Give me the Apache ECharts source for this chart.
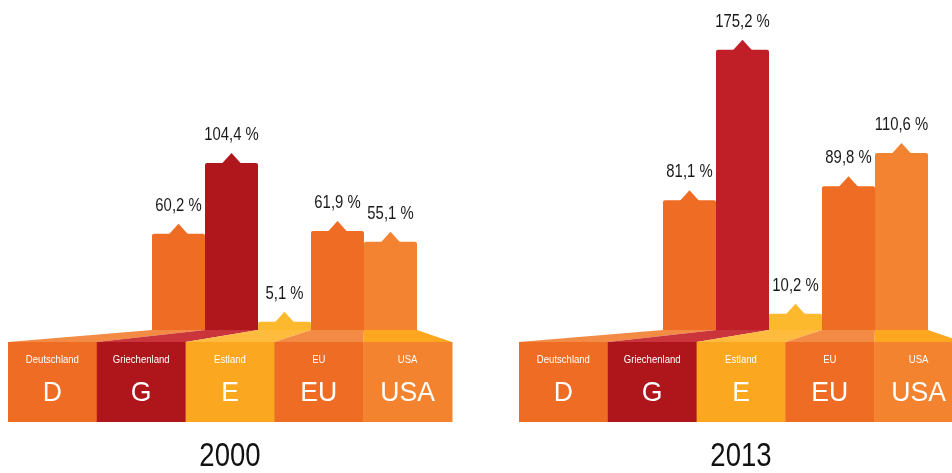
<!DOCTYPE html>
<html>
<head>
<meta charset="utf-8">
<script src="https://cdn.jsdelivr.net/npm/echarts@6/dist/echarts.min.js"></script>
<style>
html,body{margin:0;padding:0;background:#fff;}
#c{width:952px;height:473px;}
</style>
</head>
<body>
<div id="c"></div>
<script>
// ---- data ----
const categories = ['Deutschland', 'Griechenland', 'Estland', 'EU', 'USA'];
const abbreviations = ['D', 'G', 'E', 'EU', 'USA'];
const values2000 = [60.2, 104.4, 5.1, 61.9, 55.1];
const values2013 = [81.1, 175.2, 10.2, 89.8, 110.6];
const years = ['2000', '2013'];

// ---- styles ----
const barColors2000 = ['#EE6C23', '#B0171C', '#FDB92D', '#EE6C23', '#F38331'];
const barColors2013 = ['#EE6C23', '#C11F27', '#FDB92D', '#EE6C23', '#F38331'];
const blockColors = ['#EE6C23', '#AF161B', '#FBA71F', '#EE6C23', '#F3832F'];
const floorColors = ['#F38B45', '#C9353B', '#FDBC3D', '#F48B45', '#FBA71F'];
const FONT = "'Liberation Sans', Arial, sans-serif";

const BAR_W = 53, BLOCK_W = 88.8, BASE_Y = 330, FRONT_Y = 342, BLOCK_BOTTOM = 422, YMAX = 200, PX_PER_UNIT = 1.6;
const CHART_W = 952;

const panels = [
  { barLeft: 152, blockLeft: 8, values: values2000, barColors: barColors2000, year: years[0] },
  { barLeft: 663, blockLeft: 519, values: values2013, barColors: barColors2013, year: years[1] }
];

const fmt = v => v.toFixed(1).replace('.', ',') + ' %';

const grid = [], xAxis = [], yAxis = [], series = [], graphic = [];

panels.forEach((p, k) => {
  const gBar = 2 * k, gBlock = 2 * k + 1;
  const blockGridW = Math.min(5 * BLOCK_W, CHART_W - p.blockLeft);
  grid.push({ left: p.barLeft, width: 5 * BAR_W, top: BASE_Y - YMAX * PX_PER_UNIT, height: YMAX * PX_PER_UNIT });
  grid.push({ left: p.blockLeft, width: blockGridW, top: FRONT_Y, height: BLOCK_BOTTOM - FRONT_Y });
  xAxis.push({ type: 'category', gridIndex: gBar, data: categories, show: false });
  xAxis.push({ type: 'value', gridIndex: gBlock, min: 0, max: blockGridW / BLOCK_W, show: false });
  yAxis.push({ type: 'value', gridIndex: gBar, min: 0, max: YMAX, show: false });
  yAxis.push({ type: 'value', gridIndex: gBlock, min: 0, max: 1, show: false });

  // bars
  series.push({
    type: 'bar', xAxisIndex: gBar, yAxisIndex: gBar, silent: true,
    barWidth: '100%', barCategoryGap: '0%',
    data: p.values.map((v, i) => ({ value: v, itemStyle: { color: p.barColors[i] } })),
    itemStyle: { borderRadius: [2, 2, 0, 0] },
    z: 3
  });

  // peaks on bars, value labels, perspective floor
  series.push({
    type: 'custom', xAxisIndex: gBar, yAxisIndex: gBar, silent: true, z: 2,
    data: p.values.map((v, i) => [i, v]),
    renderItem: (params, api) => {
      const i = api.value(0), v = api.value(1);
      const top = api.coord([i, v]);
      const base = api.coord([i, 0]);
      const w = api.size([1, 0])[0];
      return {
        type: 'group',
        children: [
          { type: 'polygon', shape: { points: [[top[0] - 10, top[1] + 1], [top[0], top[1] - 10], [top[0] + 10, top[1] + 1]] },
            style: { fill: p.barColors[i] } },
          { type: 'text', x: top[0], y: top[1] - 19, scaleX: 0.85,
            style: { text: fmt(v), x: 0, y: 0, align: 'center', verticalAlign: 'bottom',
              fill: '#1a1a1a', fontSize: 17.5, fontFamily: FONT } },
          { type: 'polygon', shape: { points: [
              [base[0] - w / 2, base[1]], [base[0] + w / 2, base[1]],
              [p.blockLeft + (i + 1) * BLOCK_W, FRONT_Y], [p.blockLeft + i * BLOCK_W, FRONT_Y]] },
            style: { fill: floorColors[i] } }
        ]
      };
    }
  });

  // front blocks (block i spans [i, i+1] on the block axis)
  series.push({
    type: 'custom', xAxisIndex: gBlock, yAxisIndex: gBlock, silent: true, z: 2, clip: false,
    data: categories.map((c, i) => [i, i + 1]),
    renderItem: (params, api) => {
      const i = params.dataIndex;
      const tl = api.coord([api.value(0), 1]);
      const br = api.coord([api.value(1), 0]);
      const cx = (tl[0] + br[0]) / 2;
      return {
        type: 'group',
        children: [
          { type: 'rect', shape: { x: tl[0], y: tl[1], width: br[0] - tl[0] + 0.5, height: br[1] - tl[1] }, style: { fill: blockColors[i] } },
          { type: 'text', x: cx, y: tl[1] + 18, scaleX: 0.83,
            style: { text: categories[i], x: 0, y: 0, align: 'center', verticalAlign: 'middle',
              fill: '#fff', fontSize: 11.5, fontFamily: FONT } },
          { type: 'text', x: cx, y: tl[1] + 51, scaleX: 0.95,
            style: { text: abbreviations[i], x: 0, y: 0, align: 'center', verticalAlign: 'middle',
              fill: '#fff', fontSize: 28, fontFamily: FONT } }
        ]
      };
    }
  });

  graphic.push({
    type: 'text', x: p.blockLeft + 2.5 * BLOCK_W, y: 457, scaleX: 0.81,
    style: { text: p.year, x: 0, y: 0, align: 'center', verticalAlign: 'middle', fill: '#111', fontSize: 34, fontFamily: FONT }
  });
});

const chart = echarts.init(document.getElementById('c'));
chart.setOption({
  animation: false,
  backgroundColor: '#fff',
  grid, xAxis, yAxis, series, graphic
});
</script>
</body>
</html>
